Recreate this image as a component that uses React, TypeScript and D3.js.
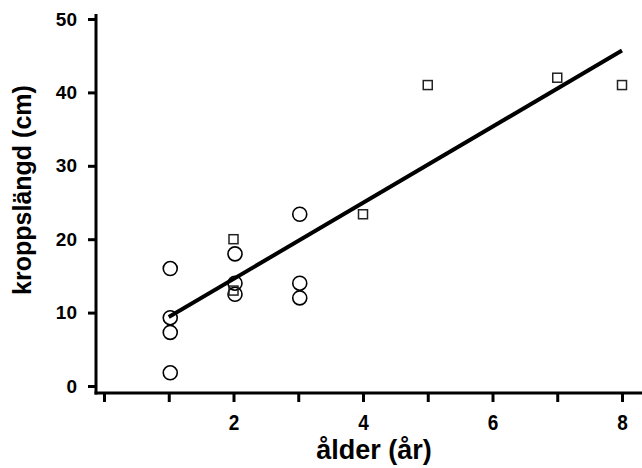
import React, { useEffect, useRef } from 'react';
import * as d3 from 'd3';

// circle group
const circleAge = [1, 1, 1, 1, 2, 2, 2, 3, 3, 3];
const circleLen = [16, 9.3, 7.3, 1.8, 18, 14, 12.5, 23.4, 14, 12];
// square group
const squareAge = [2, 2, 4, 5, 7, 8];
const squareLen = [20, 13, 23.4, 41, 42, 41];
// regression line end points
const lineAge = [1, 8];
const lineLen = [9.4, 45.7];

const xTicks = [0, 1, 2, 3, 4, 5, 6, 7, 8];
const yTicks = [0, 10, 20, 30, 40, 50];

const App = () => {
  const ref = useRef<SVGSVGElement | null>(null);

  useEffect(() => {
    const width = 642;
    const svg = d3.select(ref.current);
    svg.selectAll('*').remove();

    const x = d3.scaleLinear().domain([0, 8]).range([104, 622]);
    const y = d3.scaleLinear().domain([0, 50]).range([386, 19]);

    const axisX = 96;
    const axisY = 393;
    const font = '"Liberation Sans", Arial, sans-serif';

    // axis lines
    svg.append('line')
      .attr('x1', axisX).attr('x2', axisX)
      .attr('y1', 14).attr('y2', axisY + 1.5)
      .attr('stroke', '#000').attr('stroke-width', 3);
    svg.append('line')
      .attr('x1', axisX - 1.5).attr('x2', width)
      .attr('y1', axisY).attr('y2', axisY)
      .attr('stroke', '#000').attr('stroke-width', 3);

    // y axis
    const yAxis = d3.axisLeft(y).tickValues(yTicks).tickSize(8).tickPadding(11);
    const gy = svg.append('g').attr('transform', `translate(${axisX},0)`).call(yAxis);
    gy.select('.domain').remove();
    gy.selectAll('line').attr('stroke', '#000').attr('stroke-width', 3);
    gy.selectAll('text')
      .attr('font-family', font).attr('font-weight', 'bold').attr('font-size', 19)
      .attr('fill', '#000');

    // x axis (labels slightly stretched vertically like the original)
    const xAxis = d3.axisBottom(x).tickValues(xTicks).tickSize(9)
      .tickFormat((d) => (+d > 0 && +d % 2 === 0 ? String(d) : ''));
    const gx = svg.append('g').attr('transform', `translate(0,${axisY})`).call(xAxis);
    gx.select('.domain').remove();
    gx.selectAll('line').attr('stroke', '#000').attr('stroke-width', 3);
    gx.selectAll('text')
      .attr('font-family', font).attr('font-weight', 'bold').attr('font-size', 19)
      .attr('fill', '#000')
      .attr('y', 19.5)
      .attr('transform', 'scale(1,1.12)');

    // axis titles
    svg.append('text')
      .attr('x', 374).attr('y', 459)
      .attr('text-anchor', 'middle')
      .attr('font-family', font).attr('font-weight', 'bold').attr('font-size', 27)
      .text('ålder (år)');
    svg.append('text')
      .attr('transform', `translate(31,190) rotate(-90)`)
      .attr('text-anchor', 'middle')
      .attr('font-family', font).attr('font-weight', 'bold').attr('font-size', 25)
      .text('kroppslängd (cm)');

    // regression line
    const lineData = lineAge.map((a, i) => [a, lineLen[i]] as [number, number]);
    svg.append('path')
      .attr('d', d3.line().x((d) => x(d[0])).y((d) => y(d[1]))(lineData))
      .attr('stroke', '#000').attr('stroke-width', 4).attr('fill', 'none');

    // circles
    svg.append('g').selectAll('circle')
      .data(circleAge.map((a, i) => [a, circleLen[i]]))
      .enter().append('circle')
      .attr('cx', (d) => x(d[0]) + 1.5)
      .attr('cy', (d) => y(d[1]))
      .attr('r', 7)
      .attr('fill', 'none').attr('stroke', '#000').attr('stroke-width', 1.6);

    // squares
    svg.append('g').selectAll('rect')
      .data(squareAge.map((a, i) => [a, squareLen[i]]))
      .enter().append('rect')
      .attr('x', (d) => x(d[0]) - 4.5)
      .attr('y', (d) => y(d[1]) - 4.5)
      .attr('width', 9).attr('height', 9)
      .attr('fill', 'none').attr('stroke', '#222').attr('stroke-width', 1.5);
  }, []);

  return (
    <svg
      ref={ref}
      width={642}
      height={468}
      style={{ position: 'absolute', left: 0, top: 0, background: '#fff' }}
    />
  );
};

export default App;
